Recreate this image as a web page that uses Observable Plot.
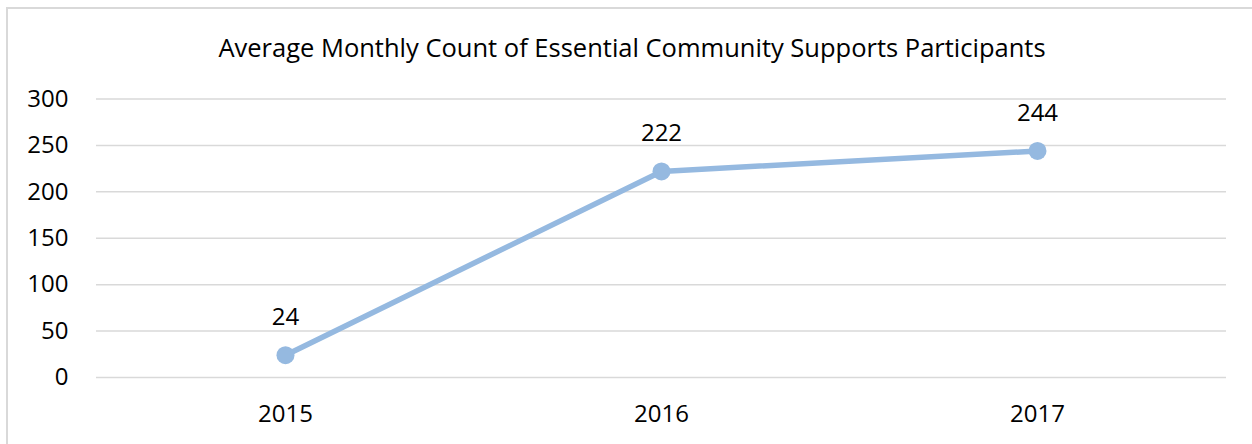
<!DOCTYPE html>
<html>
<head>
<meta charset="utf-8">
<script src="https://cdn.jsdelivr.net/npm/d3@7"></script>
<script src="https://cdn.jsdelivr.net/npm/@observablehq/plot@0.6"></script>
<style>
  html, body { margin: 0; background: #fff; overflow: hidden; font-family: "Open Sans", "Liberation Sans", sans-serif; }
  #frame { position: absolute; left: 6px; top: 7px; width: 1300px; height: 450px; border: 2px solid #d9d9d9; box-sizing: border-box; }
  #title { position: absolute; left: 0; top: 30px; width: 1264px; text-align: center; font-size: 25.5px; color: #000; white-space: nowrap; }
  #chart { position: absolute; left: 0; top: 70px; }
</style>
</head>
<body>
<div id="frame"></div>
<div id="title">Average Monthly Count of Essential Community Supports Participants</div>
<div id="chart"></div>
<script>
const years = ["2015", "2016", "2017"];
const counts = [24, 222, 244];
const yTicks = [0, 50, 100, 150, 200, 250, 300];

const data = years.map((y, i) => ({year: y, value: counts[i]}));
const color = "#95b9e0";

const chart = Plot.plot({
  width: 1252,
  height: 374,
  marginLeft: 96,
  marginRight: 26,
  marginTop: 28.5,
  marginBottom: 67,
  style: {fontFamily: "'Open Sans', 'Liberation Sans', sans-serif", fontSize: "24px", color: "#000", background: "transparent"},
  x: {type: "band", domain: years, padding: 0},
  y: {domain: [0, 300]},
  marks: [
    Plot.gridY(yTicks, {stroke: "#d9d9d9", strokeOpacity: 1, strokeWidth: 1.5}),
    Plot.axisY(yTicks, {tickSize: 0, tickPadding: 28, fontSize: 24, label: null}),
    Plot.axisX({tickSize: 0, tickPadding: 27, fontSize: 24, label: null}),
    Plot.line(data, {x: "year", y: "value", stroke: color, strokeWidth: 5.5}),
    Plot.dot(data, {x: "year", y: "value", r: 9, fill: color, stroke: null}),
    Plot.text(data, {x: "year", y: "value", text: d => String(d.value), dy: -38, fontSize: 24, fill: "#000"})
  ]
});
document.getElementById("chart").appendChild(chart);
</script>
</body>
</html>
